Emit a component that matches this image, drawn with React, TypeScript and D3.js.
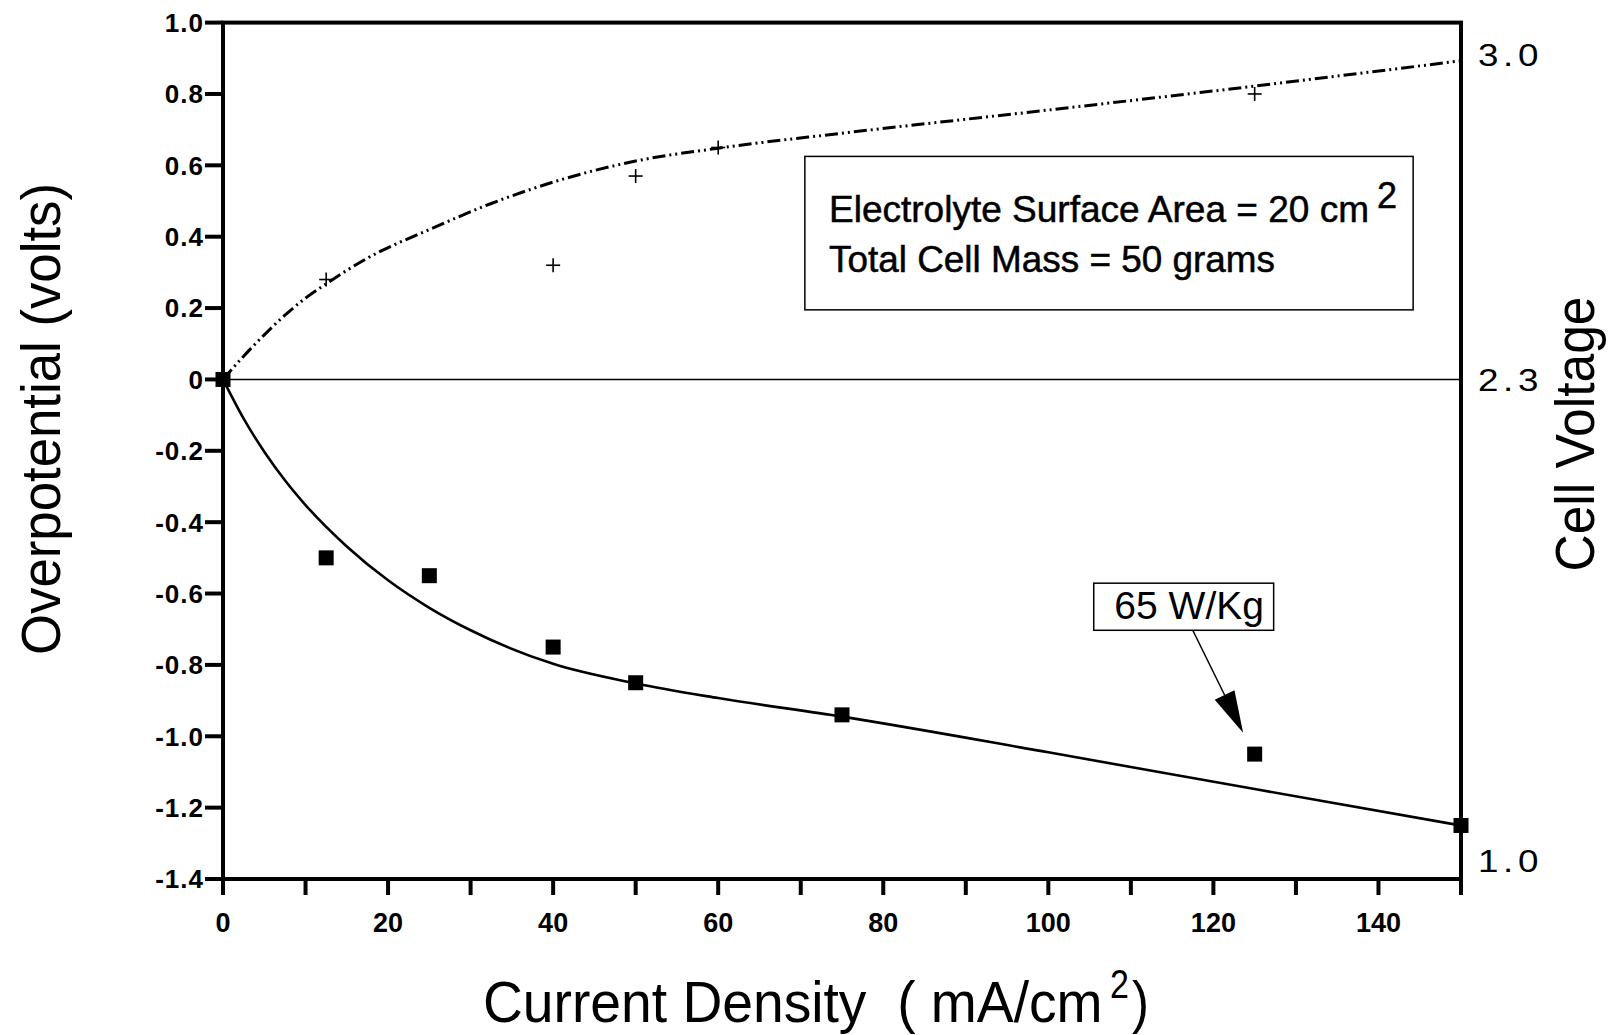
import React from "react";
import * as d3 from "d3";

// ---- data ----
const currentDensity = [0, 12.5, 25, 40, 50, 75, 125, 150];
const overpotential = [0, -0.5, -0.55, -0.75, -0.85, -0.94, -1.05, -1.25];

const plusX = [12.5, 40, 50, 60, 125];
const plusY = [0.28, 0.32, 0.57, 0.65, 0.8];

const fitLowX = [0, 2.5, 5, 7.5, 10, 15, 20, 25, 30, 40, 50, 60, 75, 100, 125, 150];
const fitLowY = [0, -0.11, -0.2025, -0.2825, -0.352, -0.468, -0.563, -0.64, -0.703, -0.797, -0.852, -0.893, -0.945, -1.045, -1.148, -1.25];

const fitHighX = [0, 2.5, 5, 7.5, 10, 12.5, 17.5, 25, 32.5, 40, 50, 60, 75, 100, 125, 150];
const fitHighY = [0, 0.065, 0.125, 0.18, 0.228, 0.268, 0.34, 0.42, 0.493, 0.553, 0.612, 0.648, 0.69, 0.755, 0.822, 0.893];

const yTicks = [1.0, 0.8, 0.6, 0.4, 0.2, 0, -0.2, -0.4, -0.6, -0.8, -1.0, -1.2, -1.4];
const yTickLabels = ["1.0", "0.8", "0.6", "0.4", "0.2", "0", "-0.2", "-0.4", "-0.6", "-0.8", "-1.0", "-1.2", "-1.4"];
const xTicks = [0, 10, 20, 30, 40, 50, 60, 70, 80, 90, 100, 110, 120, 130, 140, 150];
const xTickLabels = [0, 20, 40, 60, 80, 100, 120, 140];

const rightLabels = ["3.0", "2.3", "1.0"];
const rightLabelAt = [0.912, 0, -1.347];

const infoLines = ["Electrolyte Surface Area = 20 cm", "Total Cell Mass = 50 grams"];
const calloutText = "65 W/Kg";
const calloutPoint = [125, -1.05];

export default function App() {
  const W = 1612;
  const H = 1035;
  const x = d3.scaleLinear().domain([0, 150]).range([223, 1461]);
  const y = d3.scaleLinear().domain([-1.4, 1.0]).range([879, 22.6]);

  const lowLine = d3
    .line<number>()
    .x((_, i) => x(fitLowX[i]))
    .y((d) => y(d))
    .curve(d3.curveMonotoneX)(fitLowY) as string;
  const highLine = d3
    .line<number>()
    .x((_, i) => x(fitHighX[i]))
    .y((d) => y(d))
    .curve(d3.curveMonotoneX)(fitHighY) as string;

  const font = "Liberation Sans, Arial, Helvetica, sans-serif";

  // arrow geometry (data coordinates)
  const arrowStart = [117.5, -0.703];
  const arrowTip = [calloutPoint[0] - 1.4, calloutPoint[1] + 0.06];
  const sx = x(arrowStart[0]);
  const sy = y(arrowStart[1]);
  const tx = x(arrowTip[0]);
  const ty = y(arrowTip[1]);
  const ang = Math.atan2(ty - sy, tx - sx);
  const headLen = 42;
  const headW = 11;
  const bx = tx - headLen * Math.cos(ang);
  const by = ty - headLen * Math.sin(ang);
  const px = -Math.sin(ang);
  const py = Math.cos(ang);

  return (
    <svg
      width={W}
      height={H}
      style={{ position: "absolute", left: 0, top: 0, background: "#fff" }}
      fontFamily={font}
    >
      <rect x={0} y={0} width={W} height={H} fill="#fff" />

      {/* zero line */}
      <line x1={x(0)} x2={x(150)} y1={y(0)} y2={y(0)} stroke="#000" strokeWidth={1.5} />

      {/* fitted curves */}
      <path d={highLine} fill="none" stroke="#000" strokeWidth={3} strokeDasharray="13,4,2,4,2,4" />
      <path d={lowLine} fill="none" stroke="#000" strokeWidth={2.6} />

      {/* plus markers */}
      {plusX.map((v, i) => (
        <g key={"p" + i} stroke="#000" strokeWidth={1.6}>
          <line x1={x(v) - 7} x2={x(v) + 7} y1={y(plusY[i])} y2={y(plusY[i])} />
          <line x1={x(v)} x2={x(v)} y1={y(plusY[i]) - 7} y2={y(plusY[i]) + 7} />
        </g>
      ))}

      {/* square markers */}
      {currentDensity.map((v, i) => (
        <rect
          key={"s" + i}
          x={x(v) - 7.5}
          y={y(overpotential[i]) - 7.5}
          width={15}
          height={15}
          fill="#000"
        />
      ))}

      {/* frame */}
      <rect x={x(0)} y={y(1.0)} width={x(150) - x(0)} height={y(-1.4) - y(1.0)} fill="none" stroke="#000" strokeWidth={4} />

      {/* left ticks and labels */}
      {yTicks.map((t, i) => (
        <g key={"yt" + i}>
          <line x1={x(0) - 18} x2={x(0)} y1={y(t)} y2={y(t)} stroke="#000" strokeWidth={4} />
          <text
            x={204}
            y={y(t)}
            textAnchor="end"
            dy="0.36em"
            fontSize={26}
            fontWeight="bold"
            letterSpacing={1}
          >
            {yTickLabels[i]}
          </text>
        </g>
      ))}

      {/* bottom ticks */}
      {xTicks.map((t, i) => (
        <line key={"xt" + i} x1={x(t)} x2={x(t)} y1={y(-1.4)} y2={y(-1.4) + 16} stroke="#000" strokeWidth={4} />
      ))}
      {xTickLabels.map((t, i) => (
        <text key={"xl" + i} x={x(t)} y={932} textAnchor="middle" fontSize={27} fontWeight="bold">
          {t}
        </text>
      ))}

      {/* right labels */}
      {rightLabels.map((l, i) => (
        <text
          key={"rl" + i}
          transform={`translate(1478,${y(rightLabelAt[i])}) scale(1.15,1)`}
          dy="0.36em"
          fontSize={32}
          letterSpacing={4}
        >
          {l}
        </text>
      ))}

      {/* axis titles */}
      <text
        transform={`translate(60,419) rotate(-90)`}
        textAnchor="middle"
        fontSize={56}
        textLength={472}
        lengthAdjust="spacingAndGlyphs"
      >
        Overpotential (volts)
      </text>
      <text
        transform={`translate(1594,434) rotate(-90)`}
        textAnchor="middle"
        fontSize={56}
        textLength={275}
        lengthAdjust="spacingAndGlyphs"
      >
        Cell Voltage
      </text>
      <text transform="translate(483,1022) scale(0.952,1)" fontSize={58}>
        {"Current Density\u00a0\u00a0(\u00a0mA/cm"}
      </text>
      <text transform="translate(1110,998) scale(0.85,1)" fontSize={40}>
        2
      </text>
      <text transform="translate(1132,1022) scale(0.88,1)" fontSize={58}>
        )
      </text>

      {/* info box */}
      <rect x={x(70.5)} y={y(0.625)} width={x(144.2) - x(70.5)} height={y(0.195) - y(0.625)} fill="#fff" stroke="#000" strokeWidth={1.5} />
      <text x={829} y={222} fontSize={36} stroke="#000" strokeWidth={0.5} textLength={540} lengthAdjust="spacingAndGlyphs">
        {infoLines[0]}
      </text>
      <text x={1377} y={208} fontSize={36} stroke="#000" strokeWidth={0.5}>
        2
      </text>
      <text x={829} y={272} fontSize={36} stroke="#000" strokeWidth={0.5} textLength={446} lengthAdjust="spacingAndGlyphs">
        {infoLines[1]}
      </text>

      {/* callout */}
      <rect x={x(105.5)} y={y(-0.571)} width={x(127.3) - x(105.5)} height={y(-0.703) - y(-0.571)} fill="#fff" stroke="#000" strokeWidth={1.5} />
      <text x={x(108.0)} y={619} fontSize={39}>
        {calloutText}
      </text>
      <line x1={sx} y1={sy} x2={bx} y2={by} stroke="#000" strokeWidth={1.5} />
      <path
        d={`M${tx},${ty} L${bx + px * headW},${by + py * headW} L${bx - px * headW},${by - py * headW} Z`}
        fill="#000"
      />
    </svg>
  );
}
